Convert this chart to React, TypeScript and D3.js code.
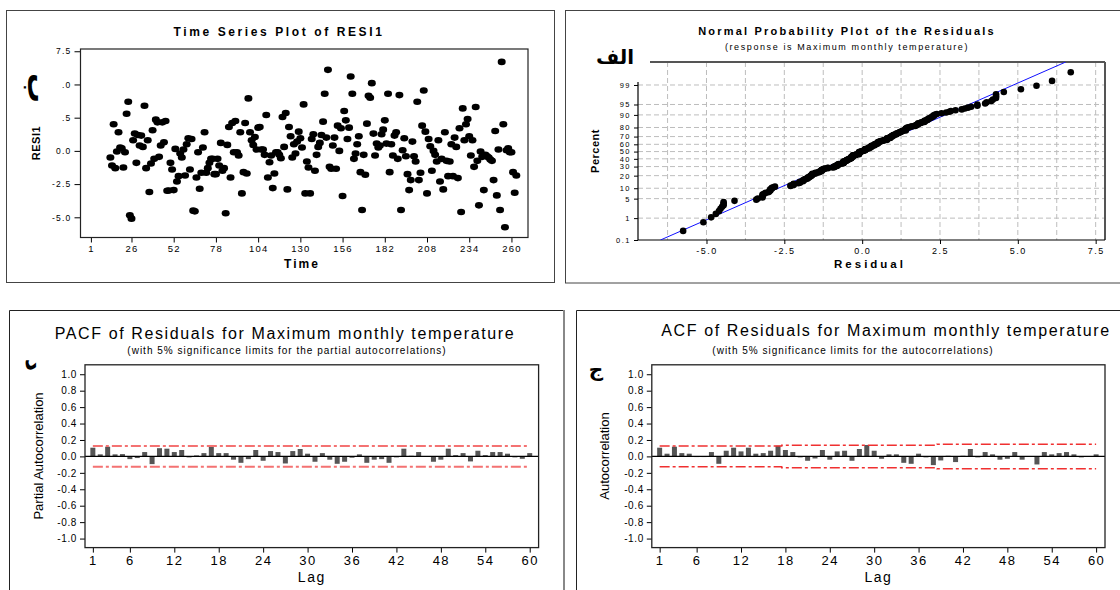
import React, { useEffect, useRef } from 'react';
import * as d3 from 'd3';

const FONT = '"Liberation Sans", Arial, sans-serif';
const ARABIC = '"DejaVu Sans", sans-serif';

// RESI1, one value per month starting at time 13
const firstTime = 13;
const resi1 = [
  -0.5, -1.1, 2.0, -1.3, -0.05, 1.4, 0.25, 0.2, -1.25, -0.1,
  2.8, 3.7, -4.85, -5.1, 0.8, 1.3, -0.9, 1.2, 0.4, 1.15,
  0.3, 3.4, -1.3, 0.8, -3.1, -0.95, 1.55, -0.6, 2.35, 2.15,
  -0.45, 0.4, 2.15, 0.65, 2.25, -3.0, -2.98, -0.9, -1.4, -2.95,
  0.15, -2.3, -1.9, -0.2, -0.5, 0.1, -1.85, 0.5, 0.95, -1.4,
  0.9, -4.5, -4.55, -2.0, -0.1, -2.85, -1.65, 0.25, 1.4, -1.65,
  -1.3, -0.9, -0.6, -0.6, -1.75, -1.75, -0.6, -1.1, 0.6, -1.5,
  -1.3, -4.7, 0.45, 1.8, -2.0, 2.1, -0.1, 2.25, -0.1, -0.35,
  1.4, -3.2, -1.6, 2.1, -1.7, 3.95, 1.4, 0.8, 0.45, 1.05,
  0.1, 1.75, 1.8, 0.1, 0.1, -0.3, 2.7, -2.0, -0.85, -0.35,
  -2.8, -1.7, -0.1, -0.1, -0.3, -0.55, 2.55, 0.3, 2.85, -2.9,
  1.8, 1.1, -0.5, 0.5, -0.2, 0.7, 1.45, 0.95, 0.25, 3.5,
  -3.2, -0.8, -1.25, -3.2, 0.9, 1.25, -1.5, -0.3, 0.3, 0.6,
  1.2, 2.2, 4.3, 1.0, 6.1, -1.2, -1.35, 0.4, 1.0, -1.35,
  1.9, 0.0, 1.7, -3.4, 3.0, 2.3, 0.9, 1.75, 5.6, 4.3,
  -0.6, -0.2, 0.5, 1.1, -1.6, -4.45, -0.3, -1.8, 2.05, 4.15,
  4.0, 5.1, 1.3, -0.35, 0.55, 0.25, 0.4, 1.25, 1.6, 2.3,
  0.55, 4.3, -1.6, 0.5, -0.35, 1.15, 1.4, -0.6, 4.2, -4.45,
  0.05, 0.95, -0.4, -1.75, -2.95, -2.2, 0.7, -0.4, -0.8, 3.7,
  -2.2, -1.65, 1.9, 4.55, 1.45, -3.2, 0.9, 0.35, -1.5, 0.0,
  -0.3, -0.8, 0.8, -2.3, -0.6, -2.9, 1.4, -0.75, -1.9, -0.8,
  0.5, -1.9, 1.0, 0.3, -2.05, 1.7, -4.6, 3.2, 0.8, 2.0,
  2.4, 1.1, -0.35, 0.8, -1.2, 3.3, -0.75, -4.1, -0.05, -0.45,
  -2.95, -0.3, -0.4, -0.5, -0.65, -0.75, -2.2, 1.5, -3.35, 0.1,
  -4.45, 6.7, 2.0, -5.75, 0.05, 0.2, -0.1, -0.1, -1.6, -3.15, -1.85,
];
const timeTicks = [1, 26, 52, 78, 104, 130, 156, 182, 208, 234, 260];
const residTicks = [7.5, 5, 2.5, 0, -2.5, -5];
const residTickLabels = ['7.5', '.0', '.5', '0.0', '-2.5', '-5.0'];

const percentTicks = [0.1, 1, 5, 10, 20, 30, 40, 50, 60, 70, 80, 90, 95, 99];
const residualTicks = [-5, -2.5, 0, 2.5, 5, 7.5];
const residualGrid = [-6.25, -5, -3.75, -2.5, -1.25, 0, 1.25, 2.5, 3.75, 5, 6.25, 7.5];

const lags = d3.range(1, 61);
const pacfValues = [
  0.106, 0.025, 0.118, 0.025, 0.028, -0.033, -0.02, 0.053, -0.094, 0.1,
  0.094, 0.053, 0.078, -0.012, 0.012, 0.04, 0.139, 0.04, 0.04, -0.04,
  -0.078, -0.033, 0.078, -0.053, 0.065, 0.053, -0.086, 0.065, 0.09, 0.033,
  -0.065, 0.04, -0.04, -0.09, -0.065, -0.016, 0.025, -0.078, -0.04, -0.033,
  -0.078, -0.012, 0.094, 0.008, 0.053, 0.004, -0.065, -0.04, 0.094, 0.016,
  0.04, -0.061, 0.069, 0.016, 0.053, 0.053, 0.033, -0.012, -0.029, 0.04,
];
const acfValues = [
  0.106, 0.033, 0.118, 0.04, 0.033, -0.008, -0.008, 0.053, -0.09, 0.069,
  0.106, 0.061, 0.106, 0.033, 0.04, 0.069, 0.13, 0.078, 0.053, -0.012,
  -0.053, -0.025, 0.078, -0.04, 0.061, 0.069, -0.053, 0.09, 0.139, 0.069,
  -0.029, 0.025, 0.025, -0.078, -0.09, 0.033, -0.012, -0.106, -0.049, 0.008,
  -0.069, 0.008, 0.09, -0.012, 0.053, 0.025, -0.04, -0.029, 0.053, -0.04,
  0.004, -0.098, 0.053, 0.025, 0.04, 0.053, 0.025, -0.012, 0.004, 0.025,
];
const pacfLimit = 0.127;
// ACF limits change at these lags
const acfLimitStarts = [1, 18, 39];
const acfLimitValues = [0.127, 0.137, 0.149];
const lagTicks = [1, 6, 12, 18, 24, 30, 36, 42, 48, 54, 60];
const corrTicks = [1, 0.8, 0.6, 0.4, 0.2, 0, -0.2, -0.4, -0.6, -0.8, -1];

function qnorm(p: number): number {
  const a = [-39.69683028665376, 220.9460984245205, -275.9285104469687, 138.357751867269, -30.66479806614716, 2.506628277459239];
  const b = [-54.47609879822406, 161.5858368580409, -155.6989798598866, 66.80131188771972, -13.28068155288572];
  const c = [-0.007784894002430293, -0.3223964580411365, -2.400758277161838, -2.549732539343734, 4.374664141464968, 2.938163982698783];
  const d = [0.007784695709041462, 0.3224671290700398, 2.445134137142996, 3.754408661907416];
  const lo = 0.02425;
  if (p < lo) {
    const q = Math.sqrt(-2 * Math.log(p));
    return (((((c[0] * q + c[1]) * q + c[2]) * q + c[3]) * q + c[4]) * q + c[5]) / ((((d[0] * q + d[1]) * q + d[2]) * q + d[3]) * q + 1);
  }
  if (p > 1 - lo) return -qnorm(1 - p);
  const q = p - 0.5, r = q * q;
  return ((((((a[0] * r + a[1]) * r + a[2]) * r + a[3]) * r + a[4]) * r + a[5]) * q) / (((((b[0] * r + b[1]) * r + b[2]) * r + b[3]) * r + b[4]) * r + 1);
}

function txt(g: any, x: number, y: number, s: string, size: number, opt: any = {}) {
  const t = g.append('text')
    .attr('x', x).attr('y', y)
    .attr('text-anchor', opt.anchor || 'middle')
    .attr('dominant-baseline', 'central')
    .attr('font-family', opt.family || FONT)
    .attr('font-size', size)
    .attr('font-weight', opt.bold ? 'bold' : 'normal')
    .attr('letter-spacing', opt.ls || 0)
    .attr('fill', '#000')
    .text(s);
  if (opt.rotate) t.attr('transform', `rotate(${opt.rotate},${x},${y})`);
  return t;
}

function styleAxis(sel: any, size: number, ls: number) {
  sel.select('.domain').remove();
  sel.attr('font-family', FONT).attr('font-size', size);
  sel.selectAll('text').attr('letter-spacing', ls).attr('fill', '#000');
  sel.selectAll('line').attr('stroke', '#000');
}

function drawTimeSeries(svg: any) {
  const g = svg.append('g');
  g.append('rect').attr('x', 6.5).attr('y', 10.5).attr('width', 548).attr('height', 272)
    .attr('fill', 'none').attr('stroke', '#444');
  const x = d3.scaleLinear().domain([-5.4, 270.2]).range([80.5, 528]);
  const y = d3.scaleLinear().domain([-6.52, 7.67]).range([237.5, 49]);

  g.append('g').attr('transform', 'translate(80.5,0)')
    .call(d3.axisLeft(y).tickValues(residTicks).tickFormat((d: any, i: number) => residTickLabels[i]).tickSize(6).tickPadding(3))
    .call((s: any) => styleAxis(s, 8.5, 1.2));
  g.append('g').attr('transform', 'translate(0,237.5)')
    .call(d3.axisBottom(x).tickValues(timeTicks).tickFormat(d3.format('d')).tickSize(5).tickPadding(3))
    .call((s: any) => styleAxis(s, 9.5, 1.2));

  g.append('rect').attr('x', 80.5).attr('y', 49).attr('width', 528 - 80.5).attr('height', 237.5 - 49)
    .attr('fill', 'none').attr('stroke', '#222').attr('stroke-width', 1.2);

  g.append('g').selectAll('ellipse').data(resi1).join('ellipse')
    .attr('cx', (d: number, i: number) => x(firstTime + i))
    .attr('cy', (d: number) => y(d))
    .attr('rx', 4).attr('ry', 3.3).attr('fill', '#000');

  txt(g, 279, 32, 'Time Series Plot of RESI1', 12, { bold: true, ls: 2.6 });
  txt(g, 302, 264, 'Time', 12, { bold: true, ls: 2 });
  txt(g, 36, 143, 'RESI1', 11, { bold: true, rotate: -90, ls: 0.5 });
  txt(g, 38, 88, 'ب', 30, { bold: true, rotate: 90, family: ARABIC });
}

function drawNormal(svg: any) {
  const g = svg.append('g');
  g.append('rect').attr('x', 565.5).attr('y', 10.5).attr('width', 600).attr('height', 272.5)
    .attr('fill', 'none').attr('stroke', '#444');
  const L = 638, R = 1105, T = 62, B = 240;
  const x = d3.scaleLinear().domain([-7.2, 7.8]).range([L, R]);
  const yz = d3.scaleLinear().domain([qnorm(0.001), 3.13]).range([B, T]);
  const yp = (p: number) => yz(qnorm(p / 100));

  const grid = g.append('g').attr('stroke', '#bdbdbd').attr('stroke-dasharray', '5,3');
  grid.selectAll('line.h').data(percentTicks.slice(1)).join('line').attr('class', 'h')
    .attr('x1', L).attr('x2', R).attr('y1', (d: number) => yp(d)).attr('y2', (d: number) => yp(d));
  grid.selectAll('line.v').data(residualGrid).join('line').attr('class', 'v')
    .attr('x1', (d: number) => x(d)).attr('x2', (d: number) => x(d)).attr('y1', T).attr('y2', B);

  g.append('g').attr('transform', `translate(${L},0)`)
    .call(d3.axisLeft(yz).tickValues(percentTicks.map((p) => qnorm(p / 100))).tickFormat((d: any, i: number) => String(percentTicks[i])).tickSize(4).tickPadding(3))
    .call((s: any) => styleAxis(s, 7.5, 1.5));
  g.append('g').attr('transform', `translate(0,${B})`)
    .call(d3.axisBottom(x).tickValues(residualTicks).tickFormat((d: any) => (+d).toFixed(1)).tickSize(4).tickPadding(4))
    .call((s: any) => styleAxis(s, 9, 1.5));

  g.append('line').attr('x1', 650).attr('x2', R).attr('y1', T).attr('y2', T).attr('stroke', '#555').attr('stroke-width', 2);
  g.append('line').attr('x1', R).attr('x2', R).attr('y1', T).attr('y2', B).attr('stroke', '#555').attr('stroke-width', 2);
  g.append('line').attr('x1', L).attr('x2', R).attr('y1', B).attr('y2', B).attr('stroke', '#000').attr('stroke-width', 1.2);
  g.append('line').attr('x1', L).attr('x2', L).attr('y1', 82).attr('y2', B).attr('stroke', '#000').attr('stroke-width', 1.2);

  const sorted = resi1.slice().sort(d3.ascending);
  const n = sorted.length;
  const mean = d3.mean(sorted) as number;
  const sd = d3.deviation(sorted) as number;

  g.append('clipPath').attr('id', 'npclip').append('rect').attr('x', L).attr('y', T).attr('width', R - L).attr('height', B - T);
  const zs = [qnorm(0.001), 3.13];
  g.append('path').attr('clip-path', 'url(#npclip)')
    .datum(zs)
    .attr('d', d3.line<number>().x((z) => x(mean + sd * z)).y((z) => yz(z)))
    .attr('stroke', '#1010ff').attr('stroke-width', 1).attr('fill', 'none');

  g.append('g').selectAll('circle').data(sorted).join('circle')
    .attr('cx', (d: number) => x(d))
    .attr('cy', (d: number, i: number) => yz(qnorm((i + 1 - 0.3) / (n + 0.4))))
    .attr('r', 3.3).attr('fill', '#000');

  txt(g, 847, 31, 'Normal Probability Plot of the Residuals', 11, { bold: true, ls: 2.2 });
  txt(g, 847, 46.5, '(response is Maximum monthly temperature)', 9, { ls: 1.6 });
  txt(g, 870, 264, 'Residual', 11.5, { bold: true, ls: 3 });
  txt(g, 595, 151, 'Percent', 11, { bold: true, rotate: -90, ls: 0.5 });
  txt(g, 615, 57, 'الف', 20, { bold: true, family: ARABIC });
}

function drawCorr(svg: any, o: any) {
  const g = svg.append('g');
  const T = 364.8, B = 547.6;
  const x = d3.scaleLinear().domain([-0.06, 61.2]).range([o.left, o.right]);
  const y = d3.scaleLinear().domain([-1.11, 1.115]).range([B, T]);

  g.append('g').attr('transform', `translate(${o.left},0)`)
    .call(d3.axisLeft(y).tickValues(corrTicks).tickFormat((d: any) => (+d).toFixed(1)).tickSize(5).tickPadding(3))
    .call((s: any) => styleAxis(s, 10, 0.6));
  g.append('g').attr('transform', `translate(0,${B})`)
    .call(d3.axisBottom(x).tickValues(lagTicks).tickFormat(d3.format('d')).tickSize(5).tickPadding(3))
    .call((s: any) => styleAxis(s, 13, 1.5));

  g.append('g').selectAll('rect').data(o.values).join('rect')
    .attr('x', (d: number, i: number) => x(lags[i]) - 2.5)
    .attr('width', 5)
    .attr('y', (d: number) => y(Math.max(0, d)))
    .attr('height', (d: number) => Math.abs(y(d) - y(0)))
    .attr('fill', '#555');

  g.append('line').attr('x1', o.left).attr('x2', o.right).attr('y1', y(0)).attr('y2', y(0)).attr('stroke', '#000').attr('stroke-width', 1.2);

  const lim = d3.line<number>().x((d, i) => x(lags[i])).y((d) => y(d)).curve(d3.curveStep);
  [1, -1].forEach((sgn) => {
    g.append('path').datum(o.limits.map((v: number) => sgn * v))
      .attr('d', lim).attr('fill', 'none')
      .attr('stroke', o.limitColor).attr('stroke-width', o.limitWidth)
      .attr('stroke-dasharray', '10,3,3,3');
  });

  g.append('rect').attr('x', o.left).attr('y', T).attr('width', o.right - o.left).attr('height', B - T)
    .attr('fill', 'none').attr('stroke', '#222').attr('stroke-width', 1.3);

  txt(g, o.titleX, o.titleY, o.title, 16, { ls: 1.6 });
  txt(g, o.subX, 350, o.sub, 10, { ls: 1 });
  txt(g, o.yLabelX, 456, o.yLabel, 13, { rotate: -90 });
  txt(g, (o.left + o.right) / 2, 577, 'Lag', 14, { ls: 1.5 });
}

const App = () => {
  const ref = useRef<SVGSVGElement>(null);
  useEffect(() => {
    const svg = d3.select(ref.current);
    svg.selectAll('*').remove();
    drawTimeSeries(svg);
    drawNormal(svg);

    // panel frames of the bottom row
    svg.append('path').attr('d', 'M9.5,600V310.5H564').attr('fill', 'none').attr('stroke', '#222');
    svg.append('line').attr('x1', 564).attr('x2', 564).attr('y1', 310).attr('y2', 600).attr('stroke', '#888').attr('stroke-width', 2);
    svg.append('path').attr('d', 'M576.5,600V310.5H1125').attr('fill', 'none').attr('stroke', '#222');

    drawCorr(svg, {
      left: 85, right: 538.6, values: pacfValues,
      limits: lags.map(() => pacfLimit), limitColor: '#f47272', limitWidth: 2,
      title: 'PACF of Residuals for Maximum monthly temperature', titleX: 285, titleY: 333,
      sub: '(with 5% significance limits for the partial autocorrelations)', subX: 287,
      yLabel: 'Partial Autocorrelation', yLabelX: 38.6,
    });
    drawCorr(svg, {
      left: 651.8, right: 1105, values: acfValues,
      limits: lags.map((l) => acfLimitValues[d3.bisectRight(acfLimitStarts, l) - 1]), limitColor: '#f03030', limitWidth: 1.5,
      title: 'ACF of Residuals for Maximum monthly temperature', titleX: 886, titleY: 330,
      sub: '(with 5% significance limits for the autocorrelations)', subX: 853,
      yLabel: 'Autocorrelation', yLabelX: 604.6,
    });
    txt(svg, 34, 365, 'د', 24, { bold: true, rotate: 90, family: ARABIC });
    txt(svg, 596, 369, 'ج', 20, { bold: true, family: ARABIC });
  }, []);
  return (
    <svg ref={ref} width={1120} height={590}
      style={{ position: 'absolute', left: 0, top: 0, background: '#fff' }} />
  );
};

export default App;
